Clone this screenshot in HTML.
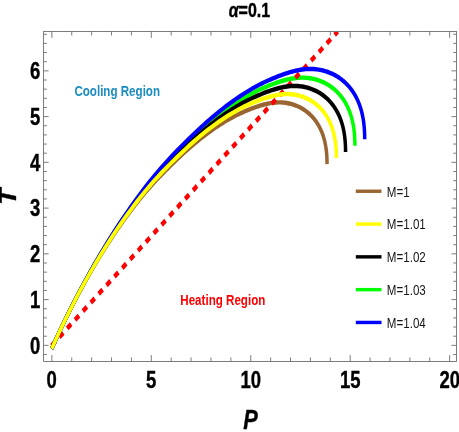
<!DOCTYPE html><html><head><meta charset="utf-8"><style>html,body{margin:0;padding:0;background:#fff}svg{display:block;will-change:transform}text{font-family:"Liberation Sans",sans-serif}</style></head><body>
<svg width="459" height="432" viewBox="0 0 459 432">
<rect width="459" height="432" fill="#fff"/>
<g transform="scale(1 1.27)">
<defs><clipPath id="c"><rect x="43.6" y="24.8031" width="412.9" height="259.843"/></clipPath></defs>
<g clip-path="url(#c)" fill="none" stroke-width="3.5" stroke-linecap="butt" stroke-linejoin="round">
<path d="M51.70 274.57 L55.15 268.58 L58.58 262.76 L61.99 257.10 L65.38 251.60 L68.75 246.25 L72.09 241.06 L75.41 236.00 L78.71 231.09 L81.99 226.31 L85.25 221.67 L88.48 217.15 L91.69 212.75 L94.89 208.48 L98.05 204.31 L101.20 200.27 L104.33 196.33 L107.43 192.49 L110.51 188.76 L113.58 185.13 L116.61 181.59 L119.63 178.15 L122.63 174.80 L125.60 171.54 L128.55 168.37 L131.48 165.27 L134.39 162.26 L137.28 159.34 L140.14 156.52 L142.98 153.80 L145.80 151.17 L148.60 148.63 L151.38 146.17 L154.14 143.78 L156.87 141.46 L159.58 139.21 L162.27 137.01 L164.94 134.87 L167.59 132.78 L170.21 130.74 L172.81 128.74 L175.40 126.78 L177.96 124.85 L180.49 122.96 L183.01 121.11 L185.50 119.31 L187.98 117.57 L190.43 115.87 L192.85 114.23 L195.26 112.63 L197.65 111.08 L200.01 109.58 L202.35 108.12 L204.67 106.71 L206.97 105.34 L209.25 104.02 L211.50 102.74 L213.73 101.50 L215.95 100.31 L218.13 99.16 L220.30 98.05 L222.45 96.98 L224.57 95.95 L226.67 94.96 L228.75 94.01 L230.81 93.10 L232.85 92.22 L234.86 91.39 L236.86 90.59 L238.83 89.83 L240.78 89.11 L242.71 88.42 L244.61 87.77 L246.50 87.15 L248.36 86.55 L250.20 85.97 L252.02 85.42 L253.82 84.89 L255.59 84.38 L257.34 83.91 L259.08 83.46 L260.79 83.04 L262.47 82.66 L264.14 82.30 L265.78 81.98 L267.41 81.69 L269.01 81.43 L270.59 81.21 L272.15 81.02 L273.68 80.87 L275.20 80.75 L276.69 80.67 L278.16 80.62 L279.61 80.61 L281.03 80.63 L282.44 80.69 L283.82 80.79 L285.18 80.92 L286.52 81.08 L287.84 81.27 L289.14 81.48 L290.41 81.71 L291.66 81.98 L292.89 82.26 L294.10 82.57 L295.29 82.91 L296.46 83.27 L297.60 83.65 L298.72 84.05 L299.82 84.48 L300.90 84.92 L301.96 85.39 L302.99 85.88 L304.00 86.39 L304.99 86.92 L305.96 87.47 L306.91 88.04 L307.84 88.62 L308.74 89.23 L309.62 89.86 L310.48 90.50 L311.32 91.16 L312.14 91.84 L312.93 92.53 L313.71 93.24 L314.46 93.97 L315.19 94.72 L315.90 95.48 L316.58 96.26 L317.25 97.05 L317.89 97.86 L318.51 98.69 L319.11 99.53 L319.69 100.39 L320.24 101.26 L320.78 102.15 L321.29 103.06 L321.78 103.98 L322.25 104.92 L322.69 105.87 L323.12 106.84 L323.52 107.83 L323.90 108.84 L324.26 109.86 L324.60 110.90 L324.92 111.96 L325.21 113.04 L325.48 114.14 L325.73 115.26 L325.96 116.41 L326.17 117.57 L326.35 118.76 L326.52 119.97 L326.66 121.21 L326.78 122.47 L326.88 123.76 L326.95 125.09 L327.01 126.44 L327.04 127.82 L327.05 129.24" stroke="#996633"/>
<path d="M51.70 274.50 L55.10 268.59 L58.88 262.17 L62.64 255.92 L66.38 249.85 L70.09 243.95 L73.77 238.21 L77.44 232.64 L81.08 227.21 L84.69 221.94 L88.28 216.81 L91.85 211.82 L95.39 206.97 L98.91 202.25 L102.41 197.66 L105.88 193.19 L109.32 188.84 L112.75 184.61 L116.15 180.49 L119.52 176.48 L122.87 172.58 L126.20 168.78 L129.50 165.08 L132.78 161.48 L136.03 157.98 L139.26 154.56 L142.47 151.24 L145.65 148.01 L148.81 144.90 L151.95 141.90 L155.06 139.00 L158.14 136.19 L161.21 133.47 L164.25 130.84 L167.26 128.28 L170.25 125.79 L173.22 123.37 L176.16 121.01 L179.08 118.70 L181.97 116.45 L184.84 114.24 L187.69 112.07 L190.51 109.95 L193.31 107.86 L196.08 105.81 L198.83 103.83 L201.56 101.91 L204.26 100.03 L206.94 98.22 L209.59 96.45 L212.22 94.74 L214.83 93.08 L217.41 91.48 L219.97 89.92 L222.51 88.41 L225.02 86.95 L227.50 85.54 L229.96 84.17 L232.40 82.85 L234.82 81.58 L237.21 80.36 L239.57 79.18 L241.91 78.04 L244.23 76.95 L246.53 75.90 L248.80 74.89 L251.04 73.93 L253.26 73.01 L255.46 72.13 L257.63 71.29 L259.78 70.49 L261.91 69.73 L264.01 69.01 L266.09 68.33 L268.14 67.67 L270.17 67.03 L272.18 66.42 L274.16 65.83 L276.12 65.28 L278.05 64.75 L279.96 64.26 L281.85 63.80 L283.71 63.37 L285.55 62.98 L287.36 62.62 L289.15 62.30 L290.91 62.02 L292.66 61.77 L294.37 61.56 L296.07 61.39 L297.74 61.26 L299.38 61.17 L301.00 61.12 L302.60 61.11 L304.17 61.13 L305.72 61.20 L307.25 61.31 L308.75 61.45 L310.23 61.63 L311.68 61.83 L313.11 62.07 L314.51 62.33 L315.90 62.62 L317.25 62.93 L318.59 63.28 L319.89 63.65 L321.18 64.04 L322.44 64.46 L323.68 64.91 L324.89 65.38 L326.08 65.87 L327.24 66.39 L328.39 66.93 L329.50 67.49 L330.60 68.07 L331.66 68.68 L332.71 69.31 L333.73 69.96 L334.73 70.62 L335.70 71.31 L336.65 72.02 L337.57 72.75 L338.47 73.50 L339.35 74.27 L340.20 75.06 L341.03 75.86 L341.84 76.68 L342.62 77.52 L343.37 78.38 L344.11 79.26 L344.82 80.15 L345.50 81.07 L346.16 82.00 L346.80 82.94 L347.41 83.91 L348.00 84.89 L348.56 85.89 L349.10 86.90 L349.62 87.94 L350.11 88.99 L350.58 90.07 L351.02 91.16 L351.44 92.27 L351.84 93.40 L352.21 94.55 L352.56 95.72 L352.89 96.91 L353.19 98.12 L353.46 99.36 L353.71 100.62 L353.94 101.91 L354.15 103.22 L354.33 104.56 L354.48 105.92 L354.62 107.32 L354.72 108.74 L354.81 110.20 L354.87 111.69 L354.90 113.22 L354.92 114.79" stroke="#00ff00"/>
<path d="M51.46 272.26 L337.69 24.80" stroke="#ff0000" stroke-width="3.9" stroke-dasharray="5.2 5.2"/>
<path d="M51.70 274.52 L55.12 268.59 L58.78 262.37 L62.42 256.32 L66.04 250.44 L69.64 244.72 L73.21 239.17 L76.76 233.77 L80.28 228.52 L83.78 223.41 L87.26 218.44 L90.72 213.61 L94.15 208.91 L97.56 204.34 L100.94 199.89 L104.31 195.57 L107.65 191.35 L110.96 187.26 L114.25 183.27 L117.52 179.39 L120.77 175.61 L123.99 171.93 L127.19 168.35 L130.37 164.86 L133.52 161.47 L136.65 158.16 L139.76 154.94 L142.84 151.82 L145.90 148.81 L148.94 145.90 L151.95 143.09 L154.94 140.37 L157.91 137.74 L160.85 135.19 L163.77 132.71 L166.67 130.30 L169.54 127.95 L172.39 125.67 L175.22 123.43 L178.02 121.25 L180.80 119.11 L183.56 117.01 L186.29 114.95 L189.00 112.93 L191.69 110.95 L194.36 109.03 L197.00 107.17 L199.61 105.36 L202.21 103.60 L204.78 101.89 L207.33 100.23 L209.85 98.62 L212.35 97.07 L214.83 95.56 L217.29 94.10 L219.72 92.68 L222.13 91.32 L224.51 89.99 L226.87 88.72 L229.21 87.49 L231.53 86.30 L233.82 85.16 L236.09 84.06 L238.33 83.00 L240.55 81.98 L242.75 81.01 L244.93 80.07 L247.08 79.18 L249.21 78.33 L251.32 77.52 L253.40 76.74 L255.46 76.01 L257.49 75.31 L259.51 74.65 L261.50 74.01 L263.46 73.39 L265.41 72.80 L267.32 72.23 L269.22 71.70 L271.09 71.19 L272.94 70.71 L274.77 70.26 L276.57 69.85 L278.35 69.47 L280.11 69.12 L281.84 68.81 L283.55 68.54 L285.24 68.30 L286.91 68.10 L288.55 67.94 L290.16 67.81 L291.76 67.72 L293.33 67.67 L294.87 67.66 L296.40 67.68 L297.90 67.75 L299.38 67.85 L300.83 67.99 L302.26 68.16 L303.67 68.36 L305.05 68.59 L306.42 68.84 L307.75 69.12 L309.07 69.43 L310.36 69.76 L311.63 70.12 L312.87 70.50 L314.09 70.91 L315.29 71.34 L316.47 71.79 L317.62 72.27 L318.75 72.77 L319.85 73.29 L320.94 73.84 L321.99 74.40 L323.03 74.99 L324.04 75.60 L325.03 76.23 L326.00 76.88 L326.94 77.54 L327.86 78.23 L328.75 78.94 L329.63 79.66 L330.48 80.40 L331.30 81.17 L332.10 81.95 L332.88 82.74 L333.64 83.56 L334.37 84.39 L335.08 85.24 L335.77 86.10 L336.43 86.99 L337.07 87.89 L337.69 88.80 L338.28 89.74 L338.85 90.69 L339.40 91.66 L339.92 92.64 L340.42 93.64 L340.90 94.66 L341.35 95.70 L341.78 96.76 L342.19 97.83 L342.58 98.93 L342.94 100.04 L343.27 101.17 L343.59 102.33 L343.88 103.50 L344.15 104.70 L344.39 105.92 L344.61 107.17 L344.81 108.44 L344.98 109.73 L345.13 111.06 L345.26 112.41 L345.37 113.79 L345.45 115.20 L345.51 116.65 L345.54 118.13 L345.55 119.64" stroke="#000000"/>
<path d="M51.70 274.47 L55.08 268.60 L58.99 261.96 L62.87 255.51 L66.73 249.24 L70.56 243.14 L74.37 237.22 L78.15 231.46 L81.91 225.85 L85.64 220.41 L89.35 215.11 L93.03 209.95 L96.69 204.94 L100.32 200.07 L103.93 195.32 L107.52 190.71 L111.08 186.21 L114.61 181.84 L118.12 177.59 L121.61 173.45 L125.07 169.42 L128.50 165.49 L131.91 161.67 L135.30 157.95 L138.66 154.33 L141.99 150.81 L145.31 147.37 L148.59 144.04 L151.85 140.83 L155.09 137.73 L158.30 134.73 L161.49 131.83 L164.65 129.02 L167.79 126.30 L170.90 123.65 L173.99 121.08 L177.06 118.58 L180.09 116.14 L183.11 113.76 L186.10 111.43 L189.06 109.15 L192.00 106.91 L194.92 104.72 L197.81 102.56 L200.67 100.45 L203.51 98.40 L206.33 96.41 L209.12 94.48 L211.88 92.60 L214.62 90.78 L217.34 89.01 L220.03 87.30 L222.70 85.64 L225.34 84.03 L227.96 82.47 L230.55 80.96 L233.11 79.50 L235.66 78.09 L238.17 76.73 L240.67 75.42 L243.14 74.15 L245.58 72.93 L248.00 71.76 L250.39 70.63 L252.76 69.54 L255.10 68.50 L257.42 67.51 L259.72 66.56 L261.99 65.65 L264.23 64.78 L266.45 63.96 L268.65 63.17 L270.82 62.43 L272.96 61.72 L275.08 61.04 L277.18 60.38 L279.25 59.75 L281.30 59.15 L283.32 58.57 L285.32 58.03 L287.29 57.52 L289.23 57.04 L291.16 56.60 L293.05 56.20 L294.93 55.83 L296.78 55.50 L298.60 55.21 L300.40 54.95 L302.17 54.74 L303.92 54.56 L305.64 54.43 L307.34 54.33 L309.02 54.28 L310.67 54.27 L312.29 54.29 L313.89 54.36 L315.47 54.47 L317.02 54.62 L318.54 54.80 L320.04 55.02 L321.52 55.26 L322.97 55.53 L324.40 55.83 L325.80 56.15 L327.17 56.51 L328.53 56.89 L329.85 57.30 L331.15 57.73 L332.43 58.19 L333.68 58.68 L334.91 59.19 L336.12 59.72 L337.29 60.28 L338.45 60.86 L339.58 61.46 L340.68 62.09 L341.76 62.74 L342.81 63.41 L343.84 64.10 L344.85 64.81 L345.83 65.54 L346.78 66.30 L347.71 67.07 L348.62 67.86 L349.50 68.67 L350.35 69.51 L351.18 70.36 L351.99 71.23 L352.77 72.11 L353.53 73.02 L354.26 73.94 L354.97 74.88 L355.65 75.84 L356.31 76.82 L356.94 77.82 L357.55 78.83 L358.13 79.86 L358.69 80.92 L359.22 81.98 L359.73 83.07 L360.21 84.18 L360.67 85.31 L361.11 86.45 L361.52 87.62 L361.90 88.81 L362.26 90.02 L362.59 91.25 L362.90 92.50 L363.19 93.78 L363.45 95.08 L363.69 96.41 L363.90 97.77 L364.08 99.15 L364.24 100.56 L364.38 102.00 L364.49 103.48 L364.58 104.98 L364.64 106.52 L364.68 108.10 L364.69 109.72" stroke="#0000ff"/>
<path d="M51.70 274.55 L55.13 268.59 L58.68 262.56 L62.21 256.70 L65.71 251.01 L69.20 245.48 L72.66 240.10 L76.09 234.87 L79.51 229.79 L82.90 224.84 L86.27 220.04 L89.61 215.36 L92.94 210.81 L96.24 206.38 L99.52 202.08 L102.77 197.89 L106.01 193.81 L109.22 189.84 L112.41 185.98 L115.57 182.22 L118.72 178.57 L121.84 175.00 L124.94 171.54 L128.01 168.16 L131.06 164.88 L134.10 161.68 L137.10 158.56 L140.09 155.54 L143.05 152.62 L145.99 149.80 L148.91 147.08 L151.81 144.45 L154.68 141.90 L157.53 139.43 L160.36 137.03 L163.17 134.70 L165.95 132.43 L168.71 130.21 L171.45 128.05 L174.16 125.94 L176.86 123.87 L179.53 121.84 L182.17 119.84 L184.80 117.88 L187.40 115.97 L189.98 114.11 L192.54 112.31 L195.07 110.55 L197.59 108.85 L200.08 107.20 L202.54 105.59 L204.99 104.04 L207.41 102.53 L209.81 101.07 L212.19 99.65 L214.54 98.28 L216.88 96.96 L219.19 95.68 L221.47 94.45 L223.74 93.25 L225.98 92.10 L228.20 91.00 L230.40 89.93 L232.57 88.91 L234.72 87.92 L236.85 86.98 L238.96 86.08 L241.05 85.21 L243.11 84.39 L245.15 83.60 L247.16 82.85 L249.16 82.14 L251.13 81.47 L253.08 80.83 L255.01 80.21 L256.91 79.61 L258.79 79.03 L260.65 78.49 L262.49 77.96 L264.30 77.47 L266.09 77.01 L267.86 76.58 L269.61 76.18 L271.33 75.81 L273.03 75.47 L274.71 75.17 L276.37 74.91 L278.00 74.68 L279.61 74.48 L281.20 74.32 L282.77 74.20 L284.31 74.12 L285.83 74.07 L287.33 74.06 L288.81 74.08 L290.26 74.14 L291.69 74.24 L293.10 74.38 L294.49 74.54 L295.85 74.74 L297.19 74.96 L298.51 75.20 L299.80 75.47 L301.08 75.77 L302.33 76.09 L303.56 76.44 L304.76 76.81 L305.95 77.20 L307.11 77.62 L308.24 78.06 L309.36 78.52 L310.45 79.01 L311.52 79.51 L312.57 80.04 L313.60 80.59 L314.60 81.16 L315.58 81.74 L316.54 82.35 L317.47 82.98 L318.38 83.63 L319.27 84.29 L320.14 84.98 L320.99 85.68 L321.81 86.40 L322.61 87.13 L323.39 87.89 L324.14 88.66 L324.87 89.45 L325.58 90.25 L326.27 91.08 L326.94 91.91 L327.58 92.77 L328.20 93.64 L328.80 94.53 L329.37 95.43 L329.92 96.35 L330.45 97.29 L330.96 98.24 L331.44 99.21 L331.90 100.20 L332.34 101.21 L332.76 102.23 L333.16 103.27 L333.53 104.33 L333.88 105.41 L334.20 106.50 L334.51 107.62 L334.79 108.76 L335.05 109.92 L335.29 111.10 L335.50 112.31 L335.69 113.54 L335.86 114.79 L336.01 116.07 L336.13 117.38 L336.23 118.72 L336.31 120.09 L336.37 121.48 L336.40 122.92 L336.41 124.38" stroke="#ffff00"/>
</g>
<text x="51.70" y="305.28" font-size="18.5" font-weight="bold" stroke="#000" stroke-width="0.3" text-anchor="middle">0</text>
<text x="151.20" y="305.28" font-size="18.5" font-weight="bold" stroke="#000" stroke-width="0.3" text-anchor="middle">5</text>
<text x="250.70" y="305.28" font-size="18.5" font-weight="bold" stroke="#000" stroke-width="0.3" text-anchor="middle">10</text>
<text x="350.20" y="305.28" font-size="18.5" font-weight="bold" stroke="#000" stroke-width="0.3" text-anchor="middle">15</text>
<text x="449.70" y="305.28" font-size="18.5" font-weight="bold" stroke="#000" stroke-width="0.3" text-anchor="middle">20</text>
<text x="40.20" y="278.58" font-size="18.5" font-weight="bold" stroke="#000" stroke-width="0.3" text-anchor="end">0</text>
<text x="40.20" y="242.52" font-size="18.5" font-weight="bold" stroke="#000" stroke-width="0.3" text-anchor="end">1</text>
<text x="40.20" y="206.46" font-size="18.5" font-weight="bold" stroke="#000" stroke-width="0.3" text-anchor="end">2</text>
<text x="40.20" y="170.39" font-size="18.5" font-weight="bold" stroke="#000" stroke-width="0.3" text-anchor="end">3</text>
<text x="40.20" y="134.33" font-size="18.5" font-weight="bold" stroke="#000" stroke-width="0.3" text-anchor="end">4</text>
<text x="40.20" y="98.27" font-size="18.5" font-weight="bold" stroke="#000" stroke-width="0.3" text-anchor="end">5</text>
<text x="40.20" y="62.20" font-size="18.5" font-weight="bold" stroke="#000" stroke-width="0.3" text-anchor="end">6</text>
<text x="250.5" y="338.11" font-size="21.8" font-weight="bold" stroke="#000" stroke-width="0.3" font-style="italic" text-anchor="middle">P</text>
<text transform="translate(16.2 155.04) rotate(-90) scale(1 1.12)" font-size="21.2" font-weight="bold" stroke="#000" stroke-width="0.3" font-style="italic" text-anchor="middle">T</text>
<text transform="translate(249.4 13.46) scale(1 1.04)" font-size="16" font-weight="bold" stroke="#000" stroke-width="0.3" text-anchor="middle"><tspan font-style="italic">α</tspan>=0.1</text>
<text x="74.4" y="75.75" font-size="11.6" font-weight="bold" fill="#1a8cbf">Cooling Region</text>
<text x="180.3" y="239.84" font-size="11.6" font-weight="bold" fill="#ff0000">Heating Region</text>
<path d="M355.8 150.59 H381.5" stroke="#996633" stroke-width="2.7" fill="none"/>
<text x="386.8" y="154.76" font-size="11.6" fill="#151515">M=1</text>
<path d="M355.8 176.42 H381.5" stroke="#ffff00" stroke-width="2.7" fill="none"/>
<text x="386.8" y="180.59" font-size="11.6" fill="#151515">M=1.01</text>
<path d="M355.8 202.24 H381.5" stroke="#000000" stroke-width="2.7" fill="none"/>
<text x="386.8" y="206.42" font-size="11.6" fill="#151515">M=1.02</text>
<path d="M355.8 228.07 H381.5" stroke="#00ff00" stroke-width="2.7" fill="none"/>
<text x="386.8" y="232.24" font-size="11.6" fill="#151515">M=1.03</text>
<path d="M355.8 253.90 H381.5" stroke="#0000ff" stroke-width="2.7" fill="none"/>
<text x="386.8" y="258.07" font-size="11.6" fill="#151515">M=1.04</text>
</g>
<g stroke="#666666" stroke-width="0.85" fill="none">
<rect x="43.6" y="31.5" width="412.9" height="330"/>
<path d="M51.85 361.50 v-6.40 M51.85 31.50 v6.40"/>
<path d="M71.74 361.50 v-4.00 M71.74 31.50 v4.00"/>
<path d="M91.63 361.50 v-4.00 M91.63 31.50 v4.00"/>
<path d="M111.52 361.50 v-4.00 M111.52 31.50 v4.00"/>
<path d="M131.41 361.50 v-4.00 M131.41 31.50 v4.00"/>
<path d="M151.30 361.50 v-6.40 M151.30 31.50 v6.40"/>
<path d="M171.19 361.50 v-4.00 M171.19 31.50 v4.00"/>
<path d="M191.08 361.50 v-4.00 M191.08 31.50 v4.00"/>
<path d="M210.97 361.50 v-4.00 M210.97 31.50 v4.00"/>
<path d="M230.86 361.50 v-4.00 M230.86 31.50 v4.00"/>
<path d="M250.75 361.50 v-6.40 M250.75 31.50 v6.40"/>
<path d="M270.64 361.50 v-4.00 M270.64 31.50 v4.00"/>
<path d="M290.53 361.50 v-4.00 M290.53 31.50 v4.00"/>
<path d="M310.42 361.50 v-4.00 M310.42 31.50 v4.00"/>
<path d="M330.31 361.50 v-4.00 M330.31 31.50 v4.00"/>
<path d="M350.20 361.50 v-6.40 M350.20 31.50 v6.40"/>
<path d="M370.09 361.50 v-4.00 M370.09 31.50 v4.00"/>
<path d="M389.98 361.50 v-4.00 M389.98 31.50 v4.00"/>
<path d="M409.87 361.50 v-4.00 M409.87 31.50 v4.00"/>
<path d="M429.76 361.50 v-4.00 M429.76 31.50 v4.00"/>
<path d="M449.65 361.50 v-6.40 M449.65 31.50 v6.40"/>
<path d="M43.60 354.50 h3.30 M456.50 354.50 h-3.30"/>
<path d="M43.60 345.35 h5.00 M456.50 345.35 h-5.00"/>
<path d="M43.60 336.20 h3.30 M456.50 336.20 h-3.30"/>
<path d="M43.60 327.05 h3.30 M456.50 327.05 h-3.30"/>
<path d="M43.60 317.90 h3.30 M456.50 317.90 h-3.30"/>
<path d="M43.60 308.75 h3.30 M456.50 308.75 h-3.30"/>
<path d="M43.60 299.60 h5.00 M456.50 299.60 h-5.00"/>
<path d="M43.60 290.45 h3.30 M456.50 290.45 h-3.30"/>
<path d="M43.60 281.30 h3.30 M456.50 281.30 h-3.30"/>
<path d="M43.60 272.15 h3.30 M456.50 272.15 h-3.30"/>
<path d="M43.60 263.00 h3.30 M456.50 263.00 h-3.30"/>
<path d="M43.60 253.85 h5.00 M456.50 253.85 h-5.00"/>
<path d="M43.60 244.70 h3.30 M456.50 244.70 h-3.30"/>
<path d="M43.60 235.55 h3.30 M456.50 235.55 h-3.30"/>
<path d="M43.60 226.40 h3.30 M456.50 226.40 h-3.30"/>
<path d="M43.60 217.25 h3.30 M456.50 217.25 h-3.30"/>
<path d="M43.60 208.10 h5.00 M456.50 208.10 h-5.00"/>
<path d="M43.60 198.95 h3.30 M456.50 198.95 h-3.30"/>
<path d="M43.60 189.80 h3.30 M456.50 189.80 h-3.30"/>
<path d="M43.60 180.65 h3.30 M456.50 180.65 h-3.30"/>
<path d="M43.60 171.50 h3.30 M456.50 171.50 h-3.30"/>
<path d="M43.60 162.35 h5.00 M456.50 162.35 h-5.00"/>
<path d="M43.60 153.20 h3.30 M456.50 153.20 h-3.30"/>
<path d="M43.60 144.05 h3.30 M456.50 144.05 h-3.30"/>
<path d="M43.60 134.90 h3.30 M456.50 134.90 h-3.30"/>
<path d="M43.60 125.75 h3.30 M456.50 125.75 h-3.30"/>
<path d="M43.60 116.60 h5.00 M456.50 116.60 h-5.00"/>
<path d="M43.60 107.45 h3.30 M456.50 107.45 h-3.30"/>
<path d="M43.60 98.30 h3.30 M456.50 98.30 h-3.30"/>
<path d="M43.60 89.15 h3.30 M456.50 89.15 h-3.30"/>
<path d="M43.60 80.00 h3.30 M456.50 80.00 h-3.30"/>
<path d="M43.60 70.85 h5.00 M456.50 70.85 h-5.00"/>
<path d="M43.60 61.70 h3.30 M456.50 61.70 h-3.30"/>
<path d="M43.60 52.55 h3.30 M456.50 52.55 h-3.30"/>
<path d="M43.60 43.40 h3.30 M456.50 43.40 h-3.30"/>
<path d="M43.60 34.25 h3.30 M456.50 34.25 h-3.30"/>
</g>
</svg></body></html>
